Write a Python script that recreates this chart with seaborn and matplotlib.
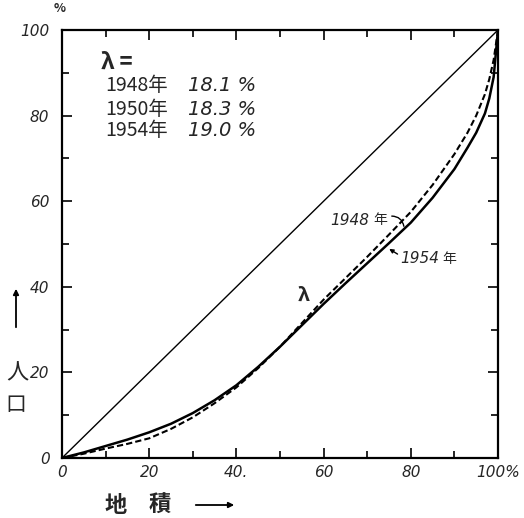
import matplotlib
matplotlib.use("Agg")
import matplotlib.pyplot as plt
import seaborn as sns
import pandas as pd

# data
area_1954 = [0, 5, 10, 15, 20, 25, 30, 35, 40, 45, 50, 55, 60, 65, 70, 75, 80, 85, 90, 93, 95, 97, 98, 99, 100]
pop_1954 = [0, 1.3, 2.8, 4.3, 6, 8, 10.5, 13.5, 17, 21.3, 26, 31, 36, 40.8, 45.5, 50.2, 55, 60.8, 67.5, 72.5, 76, 80.5, 84, 89, 100]
area_1948 = [0, 5, 10, 15, 20, 25, 30, 35, 40, 45, 50, 55, 60, 65, 70, 75, 80, 85, 90, 93, 95, 97, 98, 99, 100]
pop_1948 = [0, 1, 2.2, 3.3, 4.6, 6.8, 9.5, 12.8, 16.5, 21, 26, 31.5, 37, 42, 47, 52.2, 57.5, 63.8, 71, 76, 80, 85, 88.5, 93, 100]
equal_x = [0, 100]
equal_y = [0, 100]
tick_vals = [0, 20, 40, 60, 80, 100]
x_tick_labels = ["0", "20", "40.", "60", "80", "100%"]
y_tick_labels = ["0", "20", "40", "60", "80", "100"]
lambda_years = ["1948年", "1950年", "1954年"]
lambda_vals = ["18.1 %", "18.3 %", "19.0 %"]

sns.set_theme(style="white")
plt.rcParams['font.family'] = ['Noto Sans CJK JP', 'DejaVu Sans']

fig = plt.figure(figsize=(5.24, 5.18), dpi=100)
ax = fig.add_axes([62/524, 60/518, 436/524, 428/518])

df54 = pd.DataFrame({"x": area_1954, "y": pop_1954})
df48 = pd.DataFrame({"x": area_1948, "y": pop_1948})
dfeq = pd.DataFrame({"x": equal_x, "y": equal_y})

sns.lineplot(data=dfeq, x="x", y="y", ax=ax, color="black", linewidth=1.0)
sns.lineplot(data=df54, x="x", y="y", ax=ax, color="black", linewidth=1.8)
sns.lineplot(data=df48, x="x", y="y", ax=ax, color="black", linewidth=1.5,
             linestyle=(0, (3, 1.5)))

ax.set_xlim(0, 100)
ax.set_ylim(0, 100)
ax.set_xlabel("")
ax.set_ylabel("")
ax.set_xticks(tick_vals)
ax.set_yticks(tick_vals)
ax.set_xticks(range(10, 100, 20), minor=True)
ax.set_yticks(range(10, 100, 20), minor=True)
ax.set_xticklabels(x_tick_labels, fontstyle="italic", fontsize=11, family=['DejaVu Sans'])
ax.set_yticklabels(y_tick_labels, fontstyle="italic", fontsize=11, family=['DejaVu Sans'])
ax.tick_params(which="both", direction="in", top=True, right=True, bottom=True, left=True,
               color="black", width=1.2)
ax.tick_params(which="major", length=7, pad=5)
ax.tick_params(which="minor", length=5)
ax.tick_params(axis="x", labeltop=False)
ax.tick_params(axis="y", labelright=False, pad=9)
for s in ax.spines.values():
    s.set_color("black")
    s.set_linewidth(1.6)

# "%" above 100
fig.text(60/524, 1 - 8/518, "%", fontsize=9, ha="center", va="center", weight="bold")

# lambda box text
ax.text(9, 92.5, "λ =", fontsize=16, ha="left", va="center", weight="bold")
ys = [87, 81.5, 76.5]
for yr, v, yy in zip(lambda_years, lambda_vals, ys):
    ax.text(10, yy, yr, fontsize=14, ha="left", va="center")
    ax.text(29, yy, v, fontsize=14, ha="left", va="center", fontstyle="italic",
            family=['DejaVu Sans'])

ax.text(55.5, 38, "λ", fontsize=14, ha="center", va="center", weight="bold")
ax.text(61.5, 55.5, "1948", fontsize=11, fontstyle="italic", ha="left", va="center",
        family=['DejaVu Sans'])
ax.text(71.3, 55.5, "年", fontsize=10, ha="left", va="center")
ax.annotate("", xy=(78.5, 53.5), xytext=(75, 56.5),
            arrowprops=dict(arrowstyle="-", color="black", lw=1,
                            connectionstyle="arc3,rad=-0.5"))
ax.text(77.5, 46.5, "1954", fontsize=11, fontstyle="italic", ha="left", va="center",
        family=['DejaVu Sans'])
ax.text(87.2, 46.5, "年", fontsize=10, ha="left", va="center")
ax.annotate("", xy=(74.5, 49.2), xytext=(77.5, 47.3),
            arrowprops=dict(arrowstyle="-|>", color="black", lw=1, mutation_scale=6))

# axis labels
fig.add_artist(matplotlib.patches.FancyArrowPatch(
    (16/524, 1 - 330/518), (16/524, 1 - 286/518), transform=fig.transFigure,
    arrowstyle="-|>", mutation_scale=8, color="black", lw=1.3))
fig.text(17/524, 1 - 373/518, "人", fontsize=16, ha="center", va="center")
fig.text(16/524, 1 - 405/518, "口", fontsize=15, ha="center", va="center")
fig.text(116/524, 1 - 505/518, "地", fontsize=16, ha="center", va="center", weight="bold")
fig.text(160/524, 1 - 505/518, "積", fontsize=16, ha="center", va="center", weight="bold")
fig.add_artist(matplotlib.patches.FancyArrowPatch(
    (193/524, 1 - 505/518), (237/524, 1 - 505/518), transform=fig.transFigure,
    arrowstyle="-|>", mutation_scale=8, color="black", lw=1.3))

fig.savefig("out.png", dpi=100, facecolor="white")
